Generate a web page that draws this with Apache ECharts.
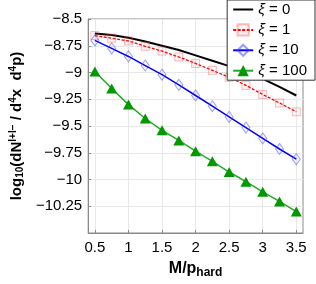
<!DOCTYPE html>
<html><head><meta charset="utf-8">
<script src="https://cdn.jsdelivr.net/npm/echarts@6/dist/echarts.min.js"></script>
<style>html,body{margin:0;padding:0;background:#fff}#c{width:316px;height:284px}</style>
</head><body><div id="c"></div>
<script>
const xValues = [0.5, 0.75, 1.0, 1.25, 1.5, 1.75, 2.0, 2.25, 2.5, 2.75, 3.0, 3.25, 3.5];
const xi0   = [-8.635, -8.65, -8.675, -8.71, -8.75, -8.79, -8.84, -8.89, -8.94, -8.995, -9.06, -9.135, -9.215];
const xi1   = [-8.655, -8.68, -8.705, -8.755, -8.80, -8.855, -8.915, -8.98, -9.045, -9.12, -9.205, -9.285, -9.367];
const xi10  = [-8.70, -8.775, -8.85, -8.935, -9.02, -9.115, -9.215, -9.315, -9.415, -9.515, -9.615, -9.715, -9.81];
const xi100 = [-8.99, -9.15, -9.30, -9.43, -9.54, -9.635, -9.735, -9.83, -9.93, -10.02, -10.115, -10.205, -10.30];
const seriesNames = ['0', '1', '10', '100'];
const xTicks = [0.5, 1, 1.5, 2, 2.5, 3, 3.5];
const yTicks = [-10.25, -10, -9.75, -9.5, -9.25, -9, -8.75, -8.5];

const pair = ys => xValues.map((x, i) => [x, ys[i]]);
const fmt = v => String(v).replace('-', '\u2212');
const FONT = 'Liberation Sans';
const bold = (size, extra) => Object.assign({fontSize: size, fontWeight: 'bold', color: '#000', fontFamily: FONT}, extra || {});

const chart = echarts.init(document.getElementById('c'), null, {renderer: 'canvas'});
chart.setOption({
  animation: false,
  textStyle: {fontFamily: FONT},
  grid: {left: 79, right: 13, top: 19, bottom: 42, show: true, borderColor: '#8a8a8a', borderWidth: 1},
  legend: {
    orient: 'vertical', right: 1, top: 0,
    backgroundColor: '#fff', borderColor: '#333', borderWidth: 1,
    padding: [2, 8, 2, 5], itemWidth: 20, itemHeight: 14, itemGap: 5.4,
    formatter: n => '{i|ξ} = ' + n.replace('xi', ''),
    textStyle: {fontSize: 15, color: '#000', fontFamily: FONT,
      rich: {i: {fontStyle: 'italic', fontSize: 15, fontFamily: FONT, color: '#000'}}},
    data: [
      {name: 'xi0', itemStyle: {opacity: 0}},
      {name: 'xi1'}, {name: 'xi10'}, {name: 'xi100'}
    ]
  },
  xAxis: {
    type: 'value', min: 0.4, max: 3.6,
    name: '{a|M/p}{b|hard}', nameLocation: 'middle', nameGap: 26,
    nameTextStyle: {rich: {a: bold(16), b: bold(12, {padding: [8, 0, 0, 0]})}},
    axisLine: {show: true, lineStyle: {color: '#8a8a8a'}},
    axisTick: {show: true, inside: true, length: 3, customValues: xTicks, lineStyle: {color: '#8a8a8a'}},
    axisLabel: {customValues: xTicks, fontSize: 15, color: '#000', margin: 7, formatter: fmt},
    splitLine: {show: true, lineStyle: {color: '#e8e8e8'}}
  },
  yAxis: {
    type: 'value', min: -10.5, max: -8.5, interval: 0.25,
    name: '{n|log}{s|10}{n|(dN}{p|l+l−}{n| / d}{p|4}{n|x  d}{p|4}{n|p)}',
    nameLocation: 'middle', nameRotate: 90, nameGap: 62,
    nameTextStyle: {rich: {
      n: bold(15),
      s: bold(10, {padding: [7, 0, 0, 0]}),
      p: bold(10, {padding: [0, 0, 7, 0]})
    }},
    axisLine: {show: true, lineStyle: {color: '#8a8a8a'}},
    axisTick: {show: true, inside: true, length: 3, lineStyle: {color: '#8a8a8a'}},
    axisLabel: {customValues: yTicks, fontSize: 15, color: '#000', margin: 6, formatter: fmt},
    splitLine: {show: true, lineStyle: {color: '#e8e8e8'}}
  },
  series: [
    {name: 'xi0', type: 'line', data: pair(xi0), symbol: 'none', color: '#000',
     lineStyle: {color: '#000', width: 2}},
    {name: 'xi1', type: 'line', data: pair(xi1), symbol: 'rect', symbolSize: 8, color: '#ff0000',
     lineStyle: {color: '#ff0000', width: 1.3, type: [3, 1.5]},
     itemStyle: {color: 'rgba(255,0,0,0.04)', borderColor: 'rgba(255,80,80,0.4)', borderWidth: 1}},
    {name: 'xi10', type: 'line', data: pair(xi10), symbol: 'diamond', symbolSize: [8, 11], color: '#0000ff',
     lineStyle: {color: '#0000ff', width: 1.5},
     itemStyle: {color: 'rgba(0,0,255,0.03)', borderColor: 'rgba(60,60,255,0.5)', borderWidth: 1}},
    {name: 'xi100', type: 'line', data: pair(xi100), symbol: 'triangle', symbolSize: [11, 10], color: '#009900',
     lineStyle: {color: '#22aa22', width: 1.5},
     itemStyle: {color: '#009900'}}
  ]
});
</script></body></html>
